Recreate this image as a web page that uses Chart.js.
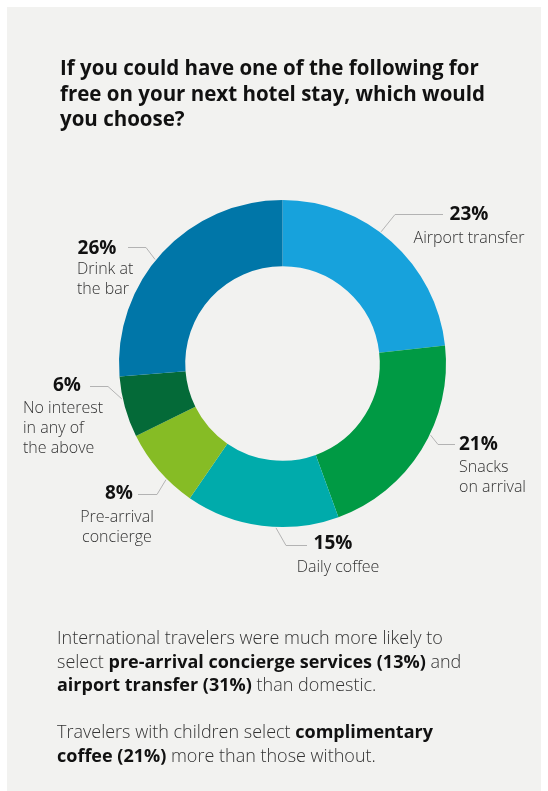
<!DOCTYPE html>
<html>
<head>
<meta charset="utf-8">
<script src="https://cdn.jsdelivr.net/npm/chart.js@4"></script>
<style>
  body { margin: 0; background: #ffffff; font-family: "Open Sans", sans-serif; }
  #panel { position: absolute; left: 7px; top: 7px; width: 534px; height: 784px; background: #f2f2f0; }
  #wrap { position: absolute; left: 0; top: 0; width: 548px; height: 791px; }
  #title { position: absolute; left: 60px; top: 55px; font-size: 20.5px; line-height: 25.5px; font-weight: 700; color: #111; white-space: nowrap; }
  #notes { position: absolute; left: 57px; top: 626px; font-size: 18px; line-height: 23.5px; font-weight: 300; color: #333; white-space: nowrap; }
  #notes p { margin: 0 0 23.5px 0; }
  #notes b { font-weight: 700; color: #111; }
</style>
</head>
<body>
<div id="panel"></div>
<div id="wrap"><canvas id="donut" width="548" height="791"></canvas></div>
<div id="title">If you could have one of the following for<br>free on your next hotel stay, which would<br>you choose?</div>
<div id="notes">
  <p>International travelers were much more likely to<br>select <b>pre-arrival concierge services (13%)</b> and<br><b>airport transfer (31%)</b> than domestic.</p>
  <p>Travelers with children select <b>complimentary</b><br><b>coffee (21%)</b> more than those without.</p>
</div>
<script>
// Data
const categories = ['Airport transfer', 'Snacks on arrival', 'Daily coffee', 'Pre-arrival concierge', 'No interest in any of the above', 'Drink at the bar'];
const values = [23, 21, 15, 8, 6, 26];
const labelLines = [
  ['Airport transfer'],
  ['Snacks', 'on arrival'],
  ['Daily coffee'],
  ['Pre-arrival', 'concierge'],
  ['No interest', 'in any of', 'the above'],
  ['Drink at', 'the bar']
];

const colors = ['#17a2dc', '#009a44', '#00abab', '#86bc25', '#046a38', '#0076a8'];

// label placement (page px): percentage text, the wrapped lines, and the leader elbow/end
const labelLayout = [
  { nudge: -5,   pct: [469, 215, 'center'], lines: [469, 238, 'center'], elbow: [395, 214], end: [443, 214] },
  { nudge: -6,   pct: [459, 445, 'left'],   lines: [459, 467, 'left'],   elbow: [438, 444], end: [455, 444] },
  { nudge: -5,   pct: [333, 544, 'center'], lines: [338, 567, 'center'], elbow: [286, 545], end: [307, 545] },
  { nudge: -4,   pct: [119, 494, 'center'], lines: [117, 517, 'center'], elbow: [157, 494], end: [138, 494] },
  { nudge: 3,    pct: [67, 386, 'center'],  lines: [23, 408, 'left'],    elbow: [108, 386], end: [90, 386] },
  { nudge: -3.5, pct: [97, 249, 'center'],  lines: [77, 269, 'left'],    elbow: [146, 247], end: [128, 247] }
];

const calloutPlugin = {
  id: 'callouts',
  afterDraw(chart) {
    const ctx = chart.ctx;
    const arcs = chart.getDatasetMeta(0).data;
    ctx.save();
    arcs.forEach((arc, i) => {
      const p = arc.getProps(['x', 'y', 'startAngle', 'endAngle', 'outerRadius'], true);
      const lay = labelLayout[i];
      const a = (p.startAngle + p.endAngle) / 2 + lay.nudge * Math.PI / 180;
      const r = p.outerRadius + 1;
      const sx = p.x + Math.cos(a) * r;
      const sy = p.y + Math.sin(a) * r;

      ctx.strokeStyle = '#b3b3b3';
      ctx.lineWidth = 1;
      ctx.beginPath();
      ctx.moveTo(sx, sy);
      ctx.lineTo(lay.elbow[0], lay.elbow[1] + 0.5);
      ctx.lineTo(lay.end[0], lay.end[1] + 0.5);
      ctx.stroke();

      ctx.textBaseline = 'middle';
      ctx.fillStyle = '#111';
      ctx.font = '700 19px "Open Sans"';
      ctx.textAlign = lay.pct[2];
      ctx.fillText(values[i] + '%', lay.pct[0], lay.pct[1]);

      ctx.fillStyle = '#333';
      ctx.font = '300 16px "Open Sans"';
      ctx.textAlign = lay.lines[2];
      labelLines[i].forEach((t, k) => {
        ctx.fillText(t, lay.lines[0], lay.lines[1] + k * 20);
      });
    });
    ctx.restore();
  }
};

new Chart(document.getElementById('donut').getContext('2d'), {
  type: 'doughnut',
  data: {
    labels: categories,
    datasets: [{
      data: values,
      backgroundColor: colors,
      borderWidth: 0
    }]
  },
  options: {
    responsive: false,
    animation: false,
    cutout: '59.5%',
    layout: {
      padding: { left: 119, right: 102, top: 200, bottom: 264 }
    },
    plugins: {
      legend: { display: false },
      tooltip: { enabled: false }
    }
  },
  plugins: [calloutPlugin]
});
</script>
</body>
</html>
